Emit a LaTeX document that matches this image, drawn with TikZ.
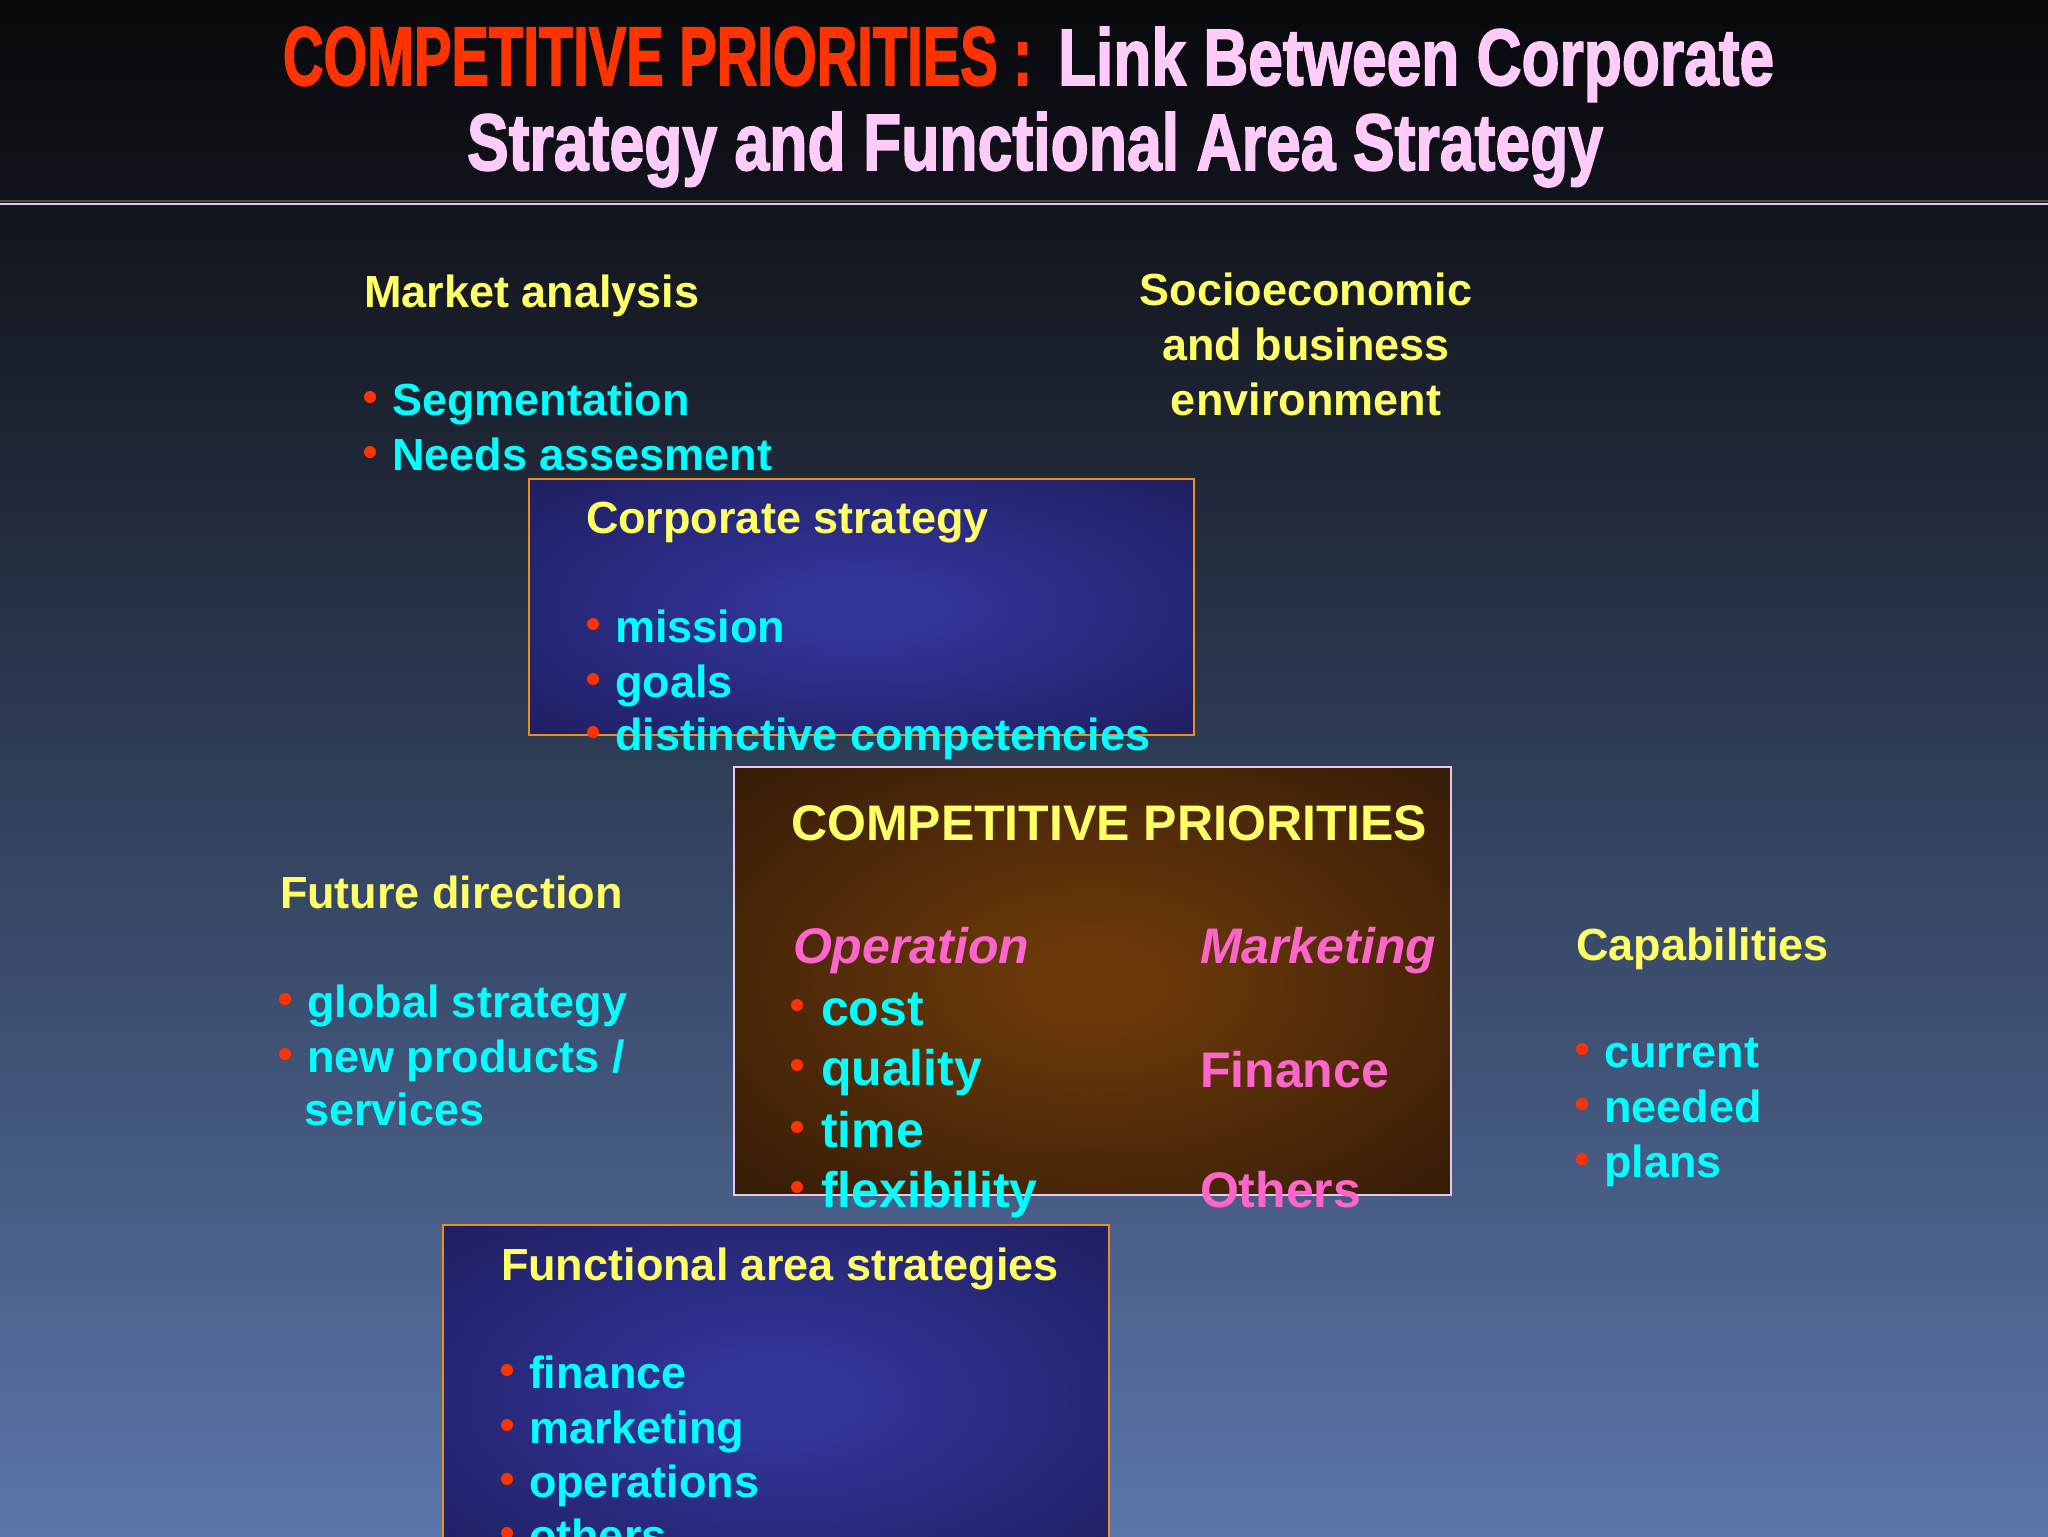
\documentclass[tikz,border=0pt]{standalone}
\usepackage{fontspec}
\setmainfont{Liberation Sans}
\newfontfamily\ttlfont{Liberation Sans}[BoldFeatures={FakeBold=2.2}]
\definecolor{ttlred}{RGB}{255,51,0}
\definecolor{ttlpink}{RGB}{255,204,250}
\definecolor{txtyel}{RGB}{255,255,102}
\definecolor{txtcyan}{RGB}{0,255,255}
\definecolor{txtpink}{RGB}{255,102,204}
\definecolor{bulred}{RGB}{255,51,0}
\definecolor{bordorange}{RGB}{232,144,30}
\definecolor{bordpink}{RGB}{232,200,236}
\definecolor{bcen}{RGB}{50,52,152}
\definecolor{bedge}{RGB}{26,26,84}
\definecolor{brcen}{RGB}{106,56,10}
\definecolor{bredge}{RGB}{38,20,6}
\definecolor{bgtop}{RGB}{8,9,12}
\definecolor{bgtopb}{RGB}{17,20,27}
\definecolor{bgmid}{RGB}{46,60,88}
\definecolor{bgbot}{RGB}{90,118,170}
\pgfdeclareradialshading{blueglow}{\pgfpointorigin}{color(0bp)=(bcen); color(6bp)=(bcen); color(42bp)=(bedge); color(75bp)=(bedge)}
\pgfdeclareradialshading{brownglow}{\pgfpointorigin}{color(0bp)=(brcen); color(5bp)=(brcen); color(44bp)=(bredge); color(75bp)=(bredge)}
\tikzset{
  lbl/.style={anchor=base west, inner sep=0pt, outer sep=0pt, font=\bfseries\fontsize{22.5}{27}\selectfont},
  yel/.style={lbl, text=txtyel},
  cyn/.style={lbl, text=txtcyan},
  pnk/.style={lbl, text=txtpink},
  big/.style={font=\bfseries\fontsize{25}{30}\selectfont},
  bigit/.style={font=\bfseries\itshape\fontsize{25}{30}\selectfont},
  bdot/.style={circle, fill=bulred, inner sep=0pt, minimum size=6pt},
  ttl/.style={anchor=base west, inner sep=0pt, outer sep=0pt, font=\ttlfont\bfseries},
  orangebox/.style={draw=bordorange, line width=1pt, shading=blueglow},
  brownbox/.style={draw=bordpink, line width=1pt, shading=brownglow}
}
\begin{document}
\begin{tikzpicture}[x=0.5pt,y=-0.5pt]
\useasboundingbox (0,0) rectangle (2048,1536);
\clip (0,0) rectangle (2048,1536);
% background
\shade[top color=bgtop, bottom color=bgtopb] (0,0) rectangle (2048,204);
\shade[top color=bgtopb, middle color=bgmid, bottom color=bgbot] (0,204) rectangle (2048,1536);
\draw[black!70, line width=1pt] (0,201) -- (2048,201);
\draw[bordpink, line width=1.3pt] (0,204) -- (2048,204);
% title
\node[ttl, text=ttlred] (t1) at (283,85) {\resizebox{374.5pt}{29pt}{COMPETITIVE PRIORITIES :}};
\node[ttl, text=ttlpink] (t2) at (1058,85) {\resizebox{358pt}{29pt}{Link Between Corporate}};
\node[ttl, text=ttlpink] (t3) at (467,170) {\resizebox{568pt}{29pt}{Strategy and Functional Area Strategy}};
% boxes
\path[orangebox] (529,479) rectangle (1194,735);
\path[brownbox] (734,767) rectangle (1451,1195);
\path[orangebox] (443,1225) rectangle (1109,1570);
% market analysis
\node[yel] (ma) at (364,307) {Market analysis};
\node[bdot] (ma1d) at (370,397) {};
\node[cyn] (ma1) at (392,415) {Segmentation};
\node[bdot] (ma2d) at (370,452) {};
\node[cyn] (ma2) at (392,470) {Needs assesment};
% socioeconomic
\node[yel, anchor=base] (se1) at (1306,305) {Socioeconomic};
\node[yel, anchor=base] (se2) at (1306,360) {and business};
\node[yel, anchor=base] (se3) at (1306,415) {environment};
% corporate strategy
\node[yel] (cs) at (586,533) {Corporate strategy};
\node[bdot] (cs1d) at (593,624) {};
\node[cyn] (cs1) at (615,642) {mission};
\node[bdot] (cs2d) at (593,679) {};
\node[cyn] (cs2) at (615,697) {goals};
\node[bdot] (cs3d) at (593,732) {};
\node[cyn] (cs3) at (615,750) {distinctive competencies};
% competitive priorities
\node[yel, big] (cp) at (791,840) {COMPETITIVE PRIORITIES};
\node[pnk, bigit] (op) at (793,963) {Operation};
\node[pnk, bigit] (mk) at (1200,963) {Marketing};
\node[bdot] (cp1d) at (797,1005) {};
\node[cyn, big] (cp1) at (821,1025) {cost};
\node[bdot] (cp2d) at (797,1065) {};
\node[cyn, big] (cp2) at (821,1085) {quality};
\node[bdot] (cp3d) at (797,1127) {};
\node[cyn, big] (cp3) at (821,1147) {time};
\node[bdot] (cp4d) at (797,1187) {};
\node[cyn, big] (cp4) at (821,1207) {flexibility};
\node[pnk, big] (fi) at (1200,1087) {Finance};
\node[pnk, big] (ot) at (1200,1207) {Others};
% future direction
\node[yel] (fd) at (280,908) {Future direction};
\node[bdot] (fd1d) at (285,999) {};
\node[cyn] (fd1) at (307,1017) {global strategy};
\node[bdot] (fd2d) at (285,1054) {};
\node[cyn] (fd2) at (307,1072) {new products /};
\node[cyn] (fd3) at (304,1125) {services};
% capabilities
\node[yel] (ca) at (1576,960) {Capabilities};
\node[bdot] (ca1d) at (1582,1049) {};
\node[cyn] (ca1) at (1604,1067) {current};
\node[bdot] (ca2d) at (1582,1104) {};
\node[cyn] (ca2) at (1604,1122) {needed};
\node[bdot] (ca3d) at (1582,1159) {};
\node[cyn] (ca3) at (1604,1177) {plans};
% functional area strategies
\node[yel] (fa) at (501,1280) {Functional area strategies};
\node[bdot] (fa1d) at (507,1370) {};
\node[cyn] (fa1) at (529,1388) {finance};
\node[bdot] (fa2d) at (507,1425) {};
\node[cyn] (fa2) at (529,1443) {marketing};
\node[bdot] (fa3d) at (507,1479) {};
\node[cyn] (fa3) at (529,1497) {operations};
\node[bdot] (fa4d) at (507,1533) {};
\node[cyn] (fa4) at (529,1551) {others};
\end{tikzpicture}
\end{document}
